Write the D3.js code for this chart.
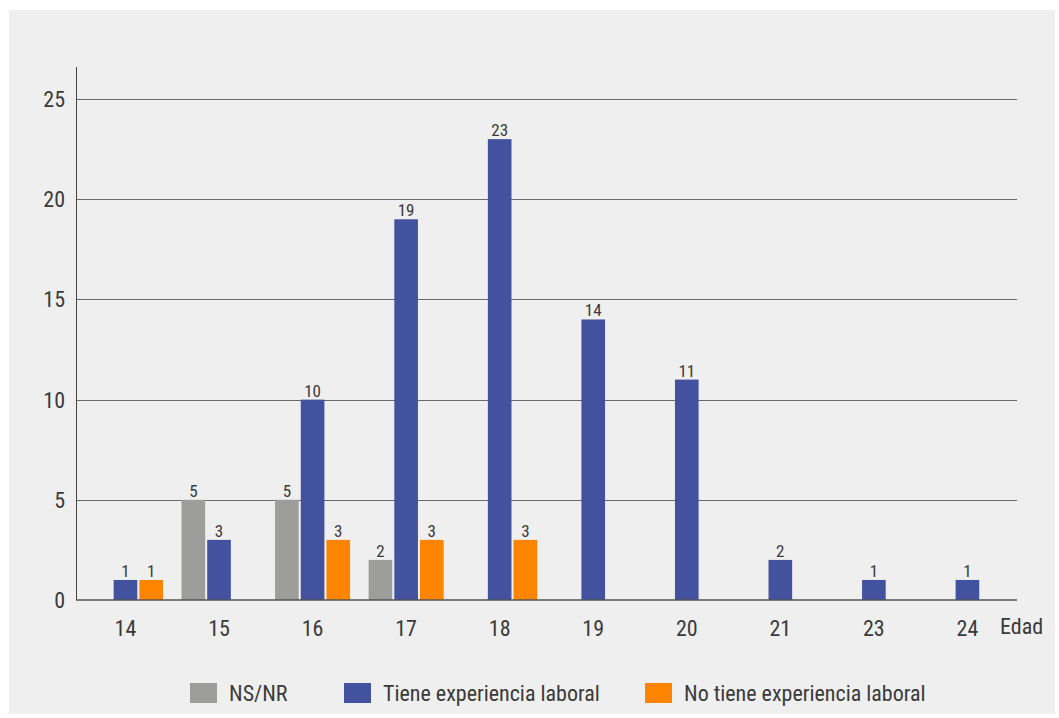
<!DOCTYPE html>
<html><head><meta charset="utf-8">
<script src="https://cdn.jsdelivr.net/npm/d3@7"></script>
<style>
html,body{margin:0;padding:0;background:#fff;}
text{font-family:"Liberation Sans Narrow","Roboto Condensed","Arial Narrow",Roboto,sans-serif;fill:#3a3a3a;}
</style></head>
<body>
<svg id="chart" width="1059" height="718"></svg>
<script>
const categories = ["14","15","16","17","18","19","20","21","23","24"];
const seriesNames = ["NS/NR","Tiene experiencia laboral","No tiene experiencia laboral"];
const nsnr    = [null, 5, 5, 2, null, null, null, null, null, null];
const tiene   = [1, 3, 10, 19, 23, 14, 11, 2, 1, 1];
const noTiene = [1, null, 3, 3, 3, null, null, null, null, null];
const yTicks = [0, 5, 10, 15, 20, 25];
const colors = ["#9d9d9b", "#43529f", "#ff8400"];

(function () {
const svg = d3.select("#chart");
svg.append("rect").attr("x", 9).attr("y", 10).attr("width", 1046).attr("height", 704).attr("fill", "#efefef");

const pLeft = 76, pRight = 1017, pTop = 67, pBottom = 600;
const x = d3.scaleBand().domain(categories).range([78.7, 1014.2]);
const xs = d3.scaleBand().domain(seriesNames).range([-37.5, 37.5]).paddingInner(0.08);
const y = d3.scaleLinear().domain([0, 26.6]).range([pBottom, pTop]);

// gridlines
svg.append("g").selectAll("line").data(yTicks.filter(t => t > 0)).join("line")
  .attr("x1", pLeft).attr("x2", pRight)
  .attr("y1", d => Math.round(y(d)) + 0.5).attr("y2", d => Math.round(y(d)) + 0.5)
  .attr("stroke", "#6a6a6a").attr("stroke-width", 1);

// y labels
svg.append("g").selectAll("text").data(yTicks).join("text")
  .attr("x", 65).attr("y", d => y(d)).attr("dy", "0.36em")
  .attr("text-anchor", "end").attr("font-size", 22).text(d => d);

const series = [nsnr, tiene, noTiene];
const g = svg.append("g");
series.forEach((vals, si) => {
  const data = categories.map((c, i) => ({c, v: vals[i]})).filter(d => d.v != null);
  g.selectAll(null).data(data).join("rect")
    .attr("x", d => x(d.c) + x.bandwidth() / 2 + xs(seriesNames[si]))
    .attr("width", xs.bandwidth())
    .attr("y", d => y(d.v)).attr("height", d => y(0) - y(d.v))
    .attr("fill", colors[si]);
  g.selectAll(null).data(data).join("text")
    .attr("x", d => x(d.c) + x.bandwidth() / 2 + xs(seriesNames[si]) + xs.bandwidth() / 2)
    .attr("y", d => y(d.v) - 3)
    .attr("text-anchor", "middle").attr("font-size", 17).text(d => d.v);
});

// axes lines
svg.append("line").attr("x1", pLeft + 0.5).attr("x2", pLeft + 0.5).attr("y1", pTop).attr("y2", pBottom)
  .attr("stroke", "#444").attr("stroke-width", 1);
svg.append("line").attr("x1", pLeft).attr("x2", pRight).attr("y1", pBottom).attr("y2", pBottom)
  .attr("stroke", "#555").attr("stroke-width", 1.5);

// x labels
svg.append("g").selectAll("text").data(categories).join("text")
  .attr("x", d => x(d) + x.bandwidth() / 2).attr("y", 636)
  .attr("text-anchor", "middle").attr("font-size", 22).text(d => d);
svg.append("text").attr("x", 1000).attr("y", 634).attr("font-size", 22).text("Edad");

// legend
const legendX = [190, 344, 645];
const lg = svg.append("g");
seriesNames.forEach((n, i) => {
  lg.append("rect").attr("x", legendX[i]).attr("y", 683).attr("width", 27).attr("height", 20).attr("fill", colors[i]);
  lg.append("text").attr("x", legendX[i] + 39).attr("y", 701).attr("font-size", 22).text(n);
});
})();
</script>
</body></html>
